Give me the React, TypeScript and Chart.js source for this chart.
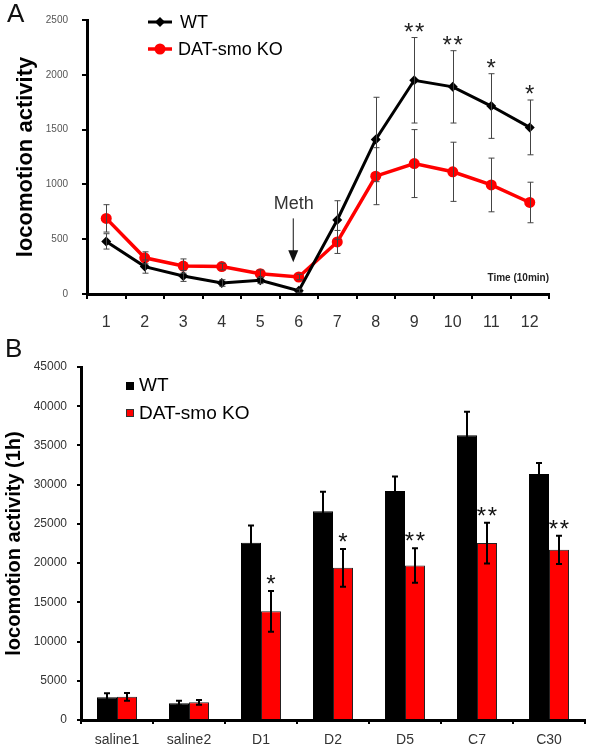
import React, { useEffect, useRef } from 'react';
import { Chart, registerables } from 'chart.js';
Chart.register(...registerables);

// ---------- Panel A data ----------
const timeLabels = ['1', '2', '3', '4', '5', '6', '7', '8', '9', '10', '11', '12'];
const wtLine = [480, 250, 165, 100, 125, 30, 675, 1410, 1950, 1890, 1715, 1520];
const koLine = [690, 330, 255, 250, 185, 155, 475, 1075, 1190, 1115, 995, 835];
const wtLineErr = [70, 60, 50, 30, 30, 15, 176, 385, 390, 330, 295, 250];
const koLineErr = [125, 55, 65, 30, 35, 25, 105, 260, 310, 270, 245, 185];
const lineStars = ['', '', '', '', '', '', '', '', '**', '**', '*', '*'];
const lineYTicks = [0, 500, 1000, 1500, 2000, 2500];

// ---------- Panel B data ----------
const groups = ['saline1', 'saline2', 'D1', 'D2', 'D5', 'C7', 'C30'];
const wtBar = [2900, 2150, 22600, 26600, 29200, 36300, 31350];
const koBar = [2950, 2250, 13850, 19400, 19700, 22550, 21700];
const wtBarErr = [500, 300, 2200, 2500, 1850, 3000, 1400];
const koBarErr = [500, 300, 2600, 2400, 2200, 2600, 1800];
const barStars = ['', '', '*', '*', '**', '**', '**'];
const barYTicks = [0, 5000, 10000, 15000, 20000, 25000, 30000, 35000, 40000, 45000];

const seriesNames = ['WT', 'DAT-smo KO'];
const RED = '#ff0000';
const FONT = '"Liberation Sans", Arial, sans-serif';

function drawStars(ctx: any, s: string, cx: number, baseY: number) {
  const n = s.length;
  const gap = 11;
  for (let k = 0; k < n; k++) {
    ctx.fillText('*', cx + (k - (n - 1) / 2) * gap, baseY);
  }
}

const lineOverlay = {
  id: 'lineOverlay',
  afterDatasetsDraw(chart: any) {
    const ctx = chart.ctx;
    const x = chart.scales.x;
    const y = chart.scales.y;
    const errs = [wtLineErr, koLineErr];
    const vals = [wtLine, koLine];
    ctx.save();
    // error bars
    ctx.strokeStyle = '#444';
    ctx.lineWidth = 1;
    for (let d = 0; d < 2; d++) {
      const meta = chart.getDatasetMeta(d);
      meta.data.forEach((pt: any, i: number) => {
        const px = Math.round(pt.x) + 0.5;
        const t = y.getPixelForValue(vals[d][i] + errs[d][i]);
        const b = y.getPixelForValue(vals[d][i] - errs[d][i]);
        ctx.beginPath();
        ctx.moveTo(px, t); ctx.lineTo(px, b);
        ctx.moveTo(px - 3, t); ctx.lineTo(px + 3, t);
        ctx.moveTo(px - 3, b); ctx.lineTo(px + 3, b);
        ctx.stroke();
      });
    }
    // significance stars
    ctx.fillStyle = '#222';
    ctx.font = `24px ${FONT}`;
    ctx.textAlign = 'center';
    ctx.textBaseline = 'alphabetic';
    lineStars.forEach((s, i) => {
      if (!s) return;
      const px = x.getPixelForValue(i);
      const t = y.getPixelForValue(wtLine[i] + wtLineErr[i]);
      drawStars(ctx, s, px, t + 2);
    });
    // Meth annotation
    const mx = x.getPixelForValue(5) - 6;
    ctx.fillStyle = '#333';
    ctx.font = `18px ${FONT}`;
    ctx.textBaseline = 'middle';
    ctx.fillText('Meth', mx + 1, y.getPixelForValue(820));
    const a0 = y.getPixelForValue(690);
    const a1 = y.getPixelForValue(290);
    ctx.strokeStyle = '#111';
    ctx.lineWidth = 1;
    ctx.beginPath();
    ctx.moveTo(mx + 0.5, a0); ctx.lineTo(mx + 0.5, a1 - 10);
    ctx.stroke();
    ctx.fillStyle = '#111';
    ctx.beginPath();
    ctx.moveTo(mx - 4.5, a1 - 12); ctx.lineTo(mx + 5.5, a1 - 12); ctx.lineTo(mx + 0.5, a1);
    ctx.closePath(); ctx.fill();
    // Time label
    ctx.fillStyle = '#222';
    ctx.font = `bold 10px ${FONT}`;
    ctx.textAlign = 'right';
    ctx.fillText('Time (10min)', chart.chartArea.right, chart.chartArea.bottom - 16);
    // legend
    ctx.textAlign = 'left';
    ctx.font = `18px ${FONT}`;
    ctx.strokeStyle = '#000'; ctx.lineWidth = 3;
    ctx.beginPath(); ctx.moveTo(148, 22); ctx.lineTo(172, 22); ctx.stroke();
    ctx.fillStyle = '#000';
    ctx.beginPath(); ctx.moveTo(160, 17); ctx.lineTo(165, 22); ctx.lineTo(160, 27); ctx.lineTo(155, 22); ctx.closePath(); ctx.fill();
    ctx.fillText(seriesNames[0], 180, 23);
    ctx.strokeStyle = RED; ctx.lineWidth = 3.5;
    ctx.beginPath(); ctx.moveTo(148, 49); ctx.lineTo(172, 49); ctx.stroke();
    ctx.fillStyle = RED;
    ctx.beginPath(); ctx.arc(160, 49, 5.5, 0, Math.PI * 2); ctx.fill();
    ctx.fillStyle = '#000';
    ctx.fillText(seriesNames[1], 178, 50);
    // panel label
    ctx.font = `26px ${FONT}`;
    ctx.fillStyle = '#111';
    ctx.textBaseline = 'alphabetic';
    ctx.fillText('A', 7, 22);
    ctx.restore();
  },
};

const barOverlay = {
  id: 'barOverlay',
  afterDatasetsDraw(chart: any) {
    const ctx = chart.ctx;
    const y = chart.scales.y;
    const errs = [wtBarErr, koBarErr];
    const vals = [wtBar, koBar];
    ctx.save();
    ctx.strokeStyle = '#000';
    ctx.lineWidth = 2;
    for (let d = 0; d < 2; d++) {
      const meta = chart.getDatasetMeta(d);
      meta.data.forEach((bar: any, i: number) => {
        const px = Math.round(bar.x);
        const t = y.getPixelForValue(vals[d][i] + errs[d][i]);
        const b = y.getPixelForValue(vals[d][i] - errs[d][i]);
        ctx.beginPath();
        ctx.moveTo(px, t); ctx.lineTo(px, b);
        ctx.moveTo(px - 3, t); ctx.lineTo(px + 3, t);
        ctx.moveTo(px - 3, b); ctx.lineTo(px + 3, b);
        ctx.stroke();
      });
    }
    // stars over KO bars
    ctx.fillStyle = '#111';
    ctx.font = `24px ${FONT}`;
    ctx.textAlign = 'center';
    ctx.textBaseline = 'alphabetic';
    const koMeta = chart.getDatasetMeta(1);
    barStars.forEach((s, i) => {
      if (!s) return;
      const px = koMeta.data[i].x;
      const t = y.getPixelForValue(koBar[i] + koBarErr[i]);
      drawStars(ctx, s, px, t + 1);
    });
    // legend
    ctx.textAlign = 'left';
    ctx.textBaseline = 'middle';
    ctx.font = `19px ${FONT}`;
    ctx.fillStyle = '#000';
    ctx.fillRect(126, 52, 8, 8);
    ctx.fillText(seriesNames[0], 139, 56);
    ctx.fillStyle = RED;
    ctx.fillRect(126, 79, 8, 8);
    ctx.strokeStyle = '#333'; ctx.lineWidth = 1;
    ctx.strokeRect(126.5, 79.5, 7, 7);
    ctx.fillStyle = '#000';
    ctx.fillText(seriesNames[1], 139, 84);
    // panel label
    ctx.font = `26px ${FONT}`;
    ctx.fillStyle = '#111';
    ctx.textBaseline = 'alphabetic';
    ctx.fillText('B', 5, 27);
    ctx.restore();
  },
};

function LineChart() {
  const ref = useRef<HTMLCanvasElement>(null);
  useEffect(() => {
    const chart = new Chart(ref.current as HTMLCanvasElement, {
      type: 'line',
      data: {
        labels: timeLabels,
        datasets: [
          {
            label: seriesNames[0], data: wtLine, borderColor: '#000', backgroundColor: '#000',
            borderWidth: 3, pointStyle: 'rectRot', pointRadius: 5, pointBorderWidth: 0, tension: 0,
          },
          {
            label: seriesNames[1], data: koLine, borderColor: RED, backgroundColor: RED,
            borderWidth: 3.5, pointStyle: 'circle', pointRadius: 5.5, pointBorderWidth: 0, tension: 0,
          },
        ],
      },
      options: {
        animation: false, responsive: false, devicePixelRatio: 1,
        layout: { padding: { left: 0, right: 40, top: 15, bottom: 0 } },
        plugins: { legend: { display: false }, tooltip: { enabled: false } },
        scales: {
          x: {
            offset: true,
            grid: { offset: true, drawOnChartArea: false, drawTicks: true, tickLength: 5, color: '#000', lineWidth: 2 },
            border: { color: '#000', width: 3 },
            ticks: { color: '#333', font: { size: 16, family: FONT }, padding: 14, maxRotation: 0 },
            afterFit: (s: any) => { s.height = 36; },
          },
          y: {
            min: 0, max: 2500,
            afterBuildTicks: (s: any) => { s.ticks = lineYTicks.map((v) => ({ value: v })); },
            grid: { drawOnChartArea: false, drawTicks: true, tickLength: 5, color: '#000', lineWidth: 2 },
            border: { color: '#000', width: 3 },
            ticks: { color: '#555', font: { size: 10, family: FONT }, padding: 14, callback: (v: any) => String(v) },
            title: { display: true, text: 'locomotion activity', color: '#000', font: { size: 22, weight: 'bold', family: FONT }, padding: { top: 13, bottom: 0 } },
            afterFit: (s: any) => { s.width = 87; },
          },
        },
      },
      plugins: [lineOverlay],
    } as any);
    return () => chart.destroy();
  }, []);
  return <canvas ref={ref} width={589} height={330} style={{ display: 'block' }} />;
}

function BarChart() {
  const ref = useRef<HTMLCanvasElement>(null);
  useEffect(() => {
    const chart = new Chart(ref.current as HTMLCanvasElement, {
      type: 'bar',
      data: {
        labels: groups,
        datasets: [
          { label: seriesNames[0], data: wtBar, backgroundColor: '#000', borderColor: '#000', borderWidth: 1 },
          { label: seriesNames[1], data: koBar, backgroundColor: RED, borderColor: '#222', borderWidth: 1 },
        ],
      },
      options: {
        animation: false, responsive: false, devicePixelRatio: 1,
        layout: { padding: { left: 0, right: 4, top: 37, bottom: 0 } },
        plugins: { legend: { display: false }, tooltip: { enabled: false } },
        datasets: { bar: { categoryPercentage: 0.556, barPercentage: 1 } },
        scales: {
          x: {
            grid: { offset: true, drawOnChartArea: false, drawTicks: true, tickLength: 4, color: '#000', lineWidth: 2 },
            border: { color: '#000', width: 3 },
            ticks: { color: '#333', font: { size: 14, family: FONT }, padding: 8, maxRotation: 0 },
            afterFit: (s: any) => { s.height = 30; },
          },
          y: {
            min: 0, max: 45000,
            afterBuildTicks: (s: any) => { s.ticks = barYTicks.map((v) => ({ value: v })); },
            grid: { drawOnChartArea: false, drawTicks: true, tickLength: 4, color: '#000', lineWidth: 2 },
            border: { color: '#000', width: 3 },
            ticks: { color: '#333', font: { size: 12, family: FONT }, padding: 10, callback: (v: any) => String(v) },
            title: { display: true, text: 'locomotion activity (1h)', color: '#000', font: { size: 20, weight: 'bold', family: FONT }, padding: { top: 2, bottom: 0 } },
            afterFit: (s: any) => { s.width = 81; },
          },
        },
      },
      plugins: [barOverlay],
    } as any);
    return () => chart.destroy();
  }, []);
  return <canvas ref={ref} width={589} height={420} style={{ display: 'block' }} />;
}

export default function App() {
  return (
    <div style={{ position: 'fixed', left: 0, top: 0, width: 589, height: 750, background: '#fff' }}>
      <LineChart />
      <BarChart />
    </div>
  );
}
